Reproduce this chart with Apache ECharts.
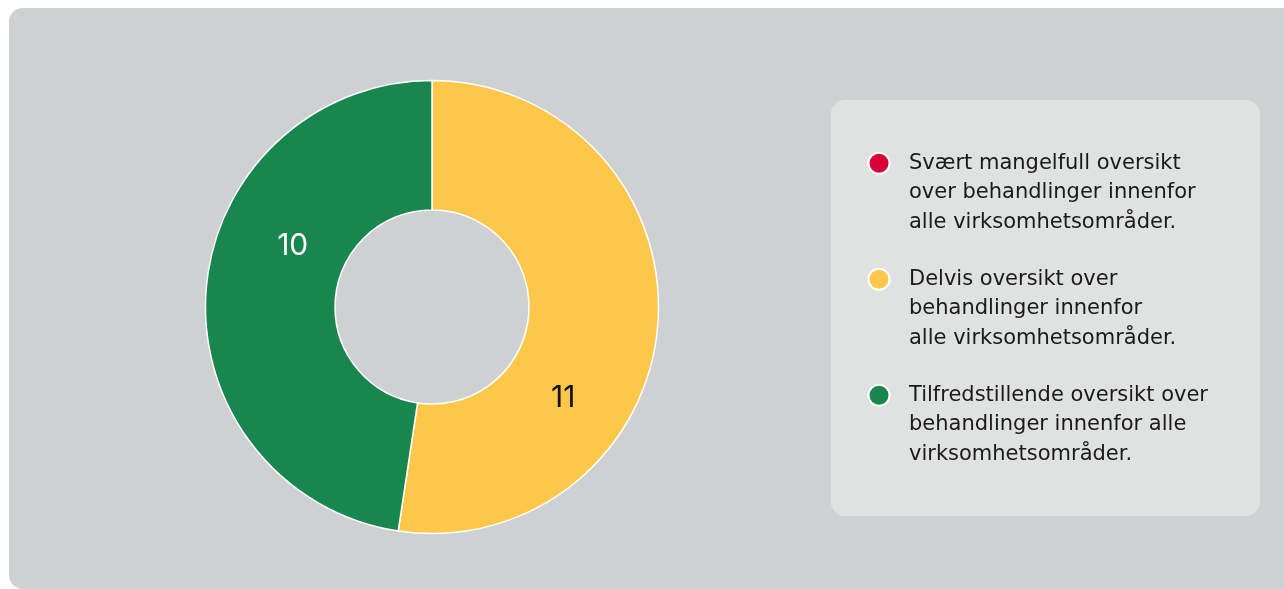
<!DOCTYPE html>
<html>
<head>
<meta charset="utf-8">
<script src="https://cdn.jsdelivr.net/npm/echarts@6/dist/echarts.min.js"></script>
<style>
  html, body { margin: 0; padding: 0; background: #ffffff; }
  #chart { width: 1284px; height: 589px; }
</style>
</head>
<body>
<div id="chart"></div>
<script>
// Categories (legend text, with the line breaks used in the legend box)
const categories = [
  'Svært mangelfull oversikt\nover behandlinger innenfor\nalle virksomhetsområder.',
  'Delvis oversikt over\nbehandlinger innenfor\nalle virksomhetsområder.',
  'Tilfredstillende oversikt over\nbehandlinger innenfor alle\nvirksomhetsområder.'
];
// Number of entities in each category
const counts = [0, 11, 10];

const colors = ['#d9003a', '#fdc84a', '#17874f'];
const labelColors = ['#ffffff', '#111111', '#ffffff'];
// Nudges for the value labels inside the ring
const labelShift = [[0, 0], [-33, 79], [25, -49]];

const LEGEND_FONT = '"DejaVu Sans", sans-serif';
const VALUE_FONT = 'Inter, "Noto Sans", sans-serif';

const chart = echarts.init(document.getElementById('chart'), null, { renderer: 'canvas' });

chart.setOption({
  animation: false,
  backgroundColor: '#ffffff',
  graphic: [
    {
      type: 'rect', z: -10, silent: true,
      shape: { x: 9, y: 8, width: 1300, height: 581, r: 14 },
      style: { fill: '#cfd0d2' }
    },
    {
      type: 'rect', z: -9, silent: true,
      shape: { x: 831, y: 100, width: 429, height: 416, r: 14 },
      style: { fill: '#e0e1e1' }
    }
  ],
  legend: {
    orient: 'vertical',
    left: 862.5,
    top: 84.5,
    icon: 'circle',
    itemWidth: 50,
    itemHeight: 21,
    symbolKeepAspect: true,
    itemGap: -31.5,
    selectedMode: false,
    data: categories,
    // two leading blank lines put the first text line level with the dot
    formatter: name => '\n\n' + name,
    textStyle: {
      fontFamily: LEGEND_FONT,
      fontSize: 21,
      lineHeight: 29.5,
      color: '#1a1a1a'
    }
  },
  series: [{
    type: 'pie',
    center: [432, 307],
    radius: [97, 226.5],
    startAngle: 90,
    clockwise: true,
    stillShowZeroSum: true,
    emphasis: { disabled: true },
    itemStyle: { borderColor: '#ffffff', borderWidth: 1.5 },
    label: {
      show: true,
      position: 'inside',
      fontFamily: VALUE_FONT,
      fontSize: 30,
      fontWeight: 400,
      formatter: p => (p.value > 0 ? String(p.value) : '')
    },
    labelLine: { show: false },
    labelLayout: p => ({ dx: labelShift[p.dataIndex][0], dy: labelShift[p.dataIndex][1] }),
    data: categories.map((name, i) => ({
      name: name,
      value: counts[i],
      itemStyle: { color: colors[i] },
      label: { color: labelColors[i] }
    }))
  }]
});
</script>
</body>
</html>
